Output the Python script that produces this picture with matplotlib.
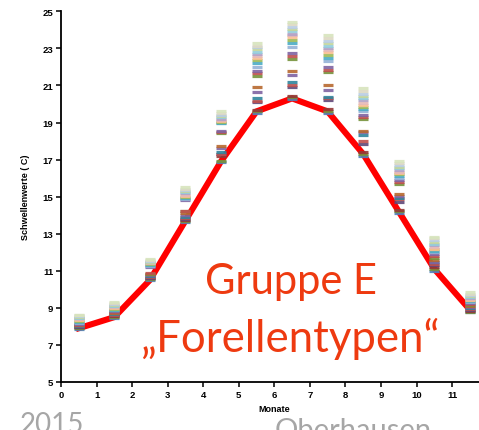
import matplotlib
matplotlib.use("Agg")
import matplotlib.pyplot as plt

months = [0.5, 1.5, 2.5, 3.5, 4.5, 5.5, 6.5, 7.5, 8.5, 9.5, 10.5, 11.5]
mean_line = [7.9, 8.5, 10.5, 13.7, 16.9, 19.6, 20.3, 19.6, 17.3, 14.2, 11.1, 8.9]

# per month: single station thresholds, sorted low -> high
mon_01 = [7.85, 7.9, 7.95, 7.95, 8.0, 8.0, 8.05, 8.05, 8.1, 8.1, 8.15, 8.2, 8.25, 8.3, 8.35, 8.4, 8.45, 8.45, 8.5, 8.55, 8.6, 8.6]
mon_02 = [8.45, 8.5, 8.55, 8.6, 8.6, 8.65, 8.7, 8.7, 8.75, 8.8, 8.85, 8.9, 8.9, 8.95, 9.0, 9.05, 9.1, 9.1, 9.15, 9.2, 9.25, 9.3]
mon_03 = [10.5, 10.55, 10.6, 10.6, 10.65, 10.7, 10.75, 10.8, 10.85, 10.9, 11.2, 11.25, 11.3, 11.35, 11.4, 11.4, 11.45, 11.5, 11.5, 11.55, 11.6, 11.65]
mon_04 = [13.65, 13.7, 13.75, 13.8, 13.85, 13.9, 14.0, 14.1, 14.2, 14.25, 14.8, 14.9, 14.95, 15.0, 15.05, 15.1, 15.2, 15.25, 15.3, 15.35, 15.4, 15.5]
mon_05 = [16.85, 16.95, 17.2, 17.3, 17.3, 17.4, 17.65, 17.75, 18.45, 18.5, 18.55, 18.95, 19.0, 19.05, 19.1, 19.15, 19.2, 19.3, 19.35, 19.4, 19.5, 19.6]
mon_06 = [19.5, 19.6, 19.65, 20.1, 20.15, 20.3, 20.65, 20.9, 21.5, 21.65, 21.8, 22.0, 22.2, 22.35, 22.5, 22.6, 22.7, 22.8, 22.95, 23.05, 23.15, 23.3]
mon_07 = [20.25, 20.35, 20.45, 20.9, 21.05, 21.2, 21.55, 21.8, 22.4, 22.6, 22.75, 23.1, 23.3, 23.45, 23.6, 23.7, 23.8, 23.95, 24.05, 24.15, 24.3, 24.4]
mon_08 = [19.5, 19.6, 19.75, 20.2, 20.3, 20.4, 20.75, 21.0, 21.7, 21.85, 22.0, 22.3, 22.5, 22.65, 22.8, 22.9, 23.0, 23.15, 23.3, 23.4, 23.55, 23.7]
mon_09 = [17.2, 17.3, 17.4, 17.85, 18.0, 18.3, 18.5, 18.55, 19.2, 19.3, 19.4, 19.6, 19.75, 19.85, 19.95, 20.05, 20.2, 20.3, 20.45, 20.55, 20.7, 20.85]
mon_10 = [14.1, 14.2, 14.3, 14.7, 14.85, 14.95, 15.05, 15.15, 15.7, 15.8, 15.9, 16.0, 16.1, 16.2, 16.3, 16.35, 16.45, 16.55, 16.6, 16.7, 16.8, 16.9]
mon_11 = [11.0, 11.1, 11.2, 11.3, 11.35, 11.45, 11.5, 11.6, 11.7, 11.8, 11.9, 12.0, 12.05, 12.15, 12.2, 12.3, 12.4, 12.45, 12.55, 12.65, 12.75, 12.85]
mon_12 = [8.75, 8.8, 8.85, 8.9, 8.95, 9.0, 9.05, 9.1, 9.15, 9.2, 9.25, 9.3, 9.35, 9.4, 9.45, 9.5, 9.55, 9.6, 9.65, 9.7, 9.75, 9.85]

series_colors = [
    "#4F81BD", "#77933C", "#953735", "#5F497A", "#C0504D", "#31859C",
    "#8064A2", "#B7692F", "#77933C", "#C0504D", "#8064A2", "#95B3D7",
    "#4BACC6", "#9BBB59", "#FAC090", "#E6B9B8", "#B3A2C7", "#93CDDD",
    "#C3D69B", "#B9CDE5", "#DDD9C3", "#D7E4BD",
]

all_months = [mon_01, mon_02, mon_03, mon_04, mon_05, mon_06,
              mon_07, mon_08, mon_09, mon_10, mon_11, mon_12]

fig = plt.figure(figsize=(4.79, 4.31), dpi=100)
ax = fig.add_axes([61 / 479, 1 - 383 / 431, 426.6 / 479, (383 - 12.3) / 431])

ax.plot(months, mean_line, color="#FF0000", lw=4.4, zorder=2, solid_joinstyle="miter")

for i, col in enumerate(series_colors):
    vals = [m[i] for m in all_months]
    ax.plot(months, vals, ls="none", marker="_", ms=6.5, mew=2.3,
            color=col, alpha=0.9, zorder=3)

ax.set_xlim(0, 12)
ax.set_ylim(5, 25)
ax.set_xticks(range(0, 12))
ax.set_yticks(range(5, 26, 2))
for s in ["top", "right"]:
    ax.spines[s].set_visible(False)
for s in ["left", "bottom"]:
    ax.spines[s].set_linewidth(1.3)
ax.tick_params(direction="out", length=3.5, width=1.1, labelsize=6.8, pad=2)
for lab in ax.get_xticklabels() + ax.get_yticklabels():
    lab.set_fontweight("bold")
    lab.set_family("Liberation Sans")

ax.set_ylabel("Schwellenwerte ( C)", fontsize=6.5, fontweight="bold",
              family="Liberation Sans", labelpad=9)
ax.set_xlabel("Monate", fontsize=6.5, fontweight="bold",
              family="Liberation Sans", labelpad=4)

red = "#EE3A10"
fig.text(291 / 479, 1 - 294 / 431, "Gruppe E", color=red, fontsize=30,
         family="Lato", ha="center", va="baseline")
fig.text(291 / 479, 1 - 352 / 431, "\u201eForellentypen\u201c", color=red,
         fontsize=31.5, family="Lato", ha="center", va="baseline")

grey = "#A6A6A6"
fig.text(20 / 479, 1 - 412 / 431, "2015", color=grey, fontsize=20,
         family="Lato", ha="left", va="top")
fig.text(275 / 479, 1 - 418 / 431, "Oberhausen", color=grey, fontsize=21,
         family="Lato", ha="left", va="top")

fig.savefig("out.png", dpi=100)
